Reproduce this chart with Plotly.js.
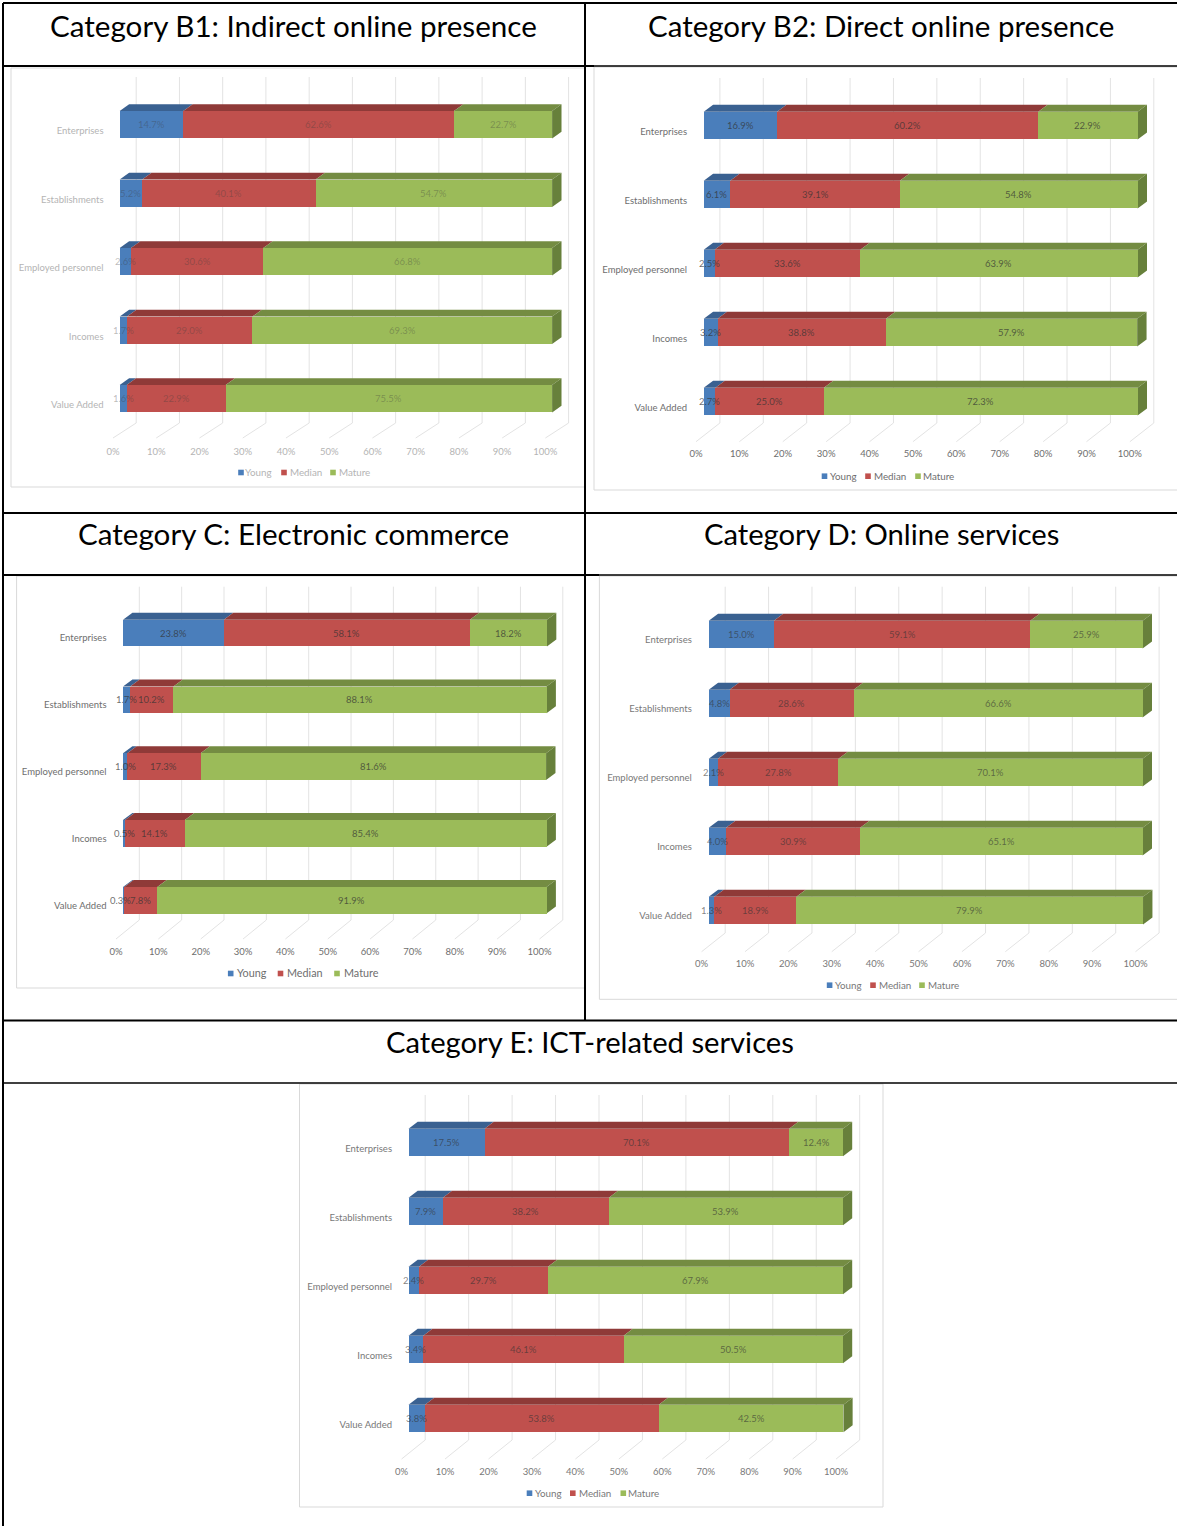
<!DOCTYPE html>
<html>
<head>
<meta charset="utf-8">
<script src="https://cdn.plot.ly/plotly-3.0.1.min.js"></script>
<style>html,body{margin:0;padding:0;background:#fff;}#chart{width:1177px;height:1526px;}</style>
</head>
<body>
<div id="chart"></div>
<script>
// Shared labels
const categories = ["Enterprises", "Establishments", "Employed personnel", "Incomes", "Value Added"];
const seriesNames = ["Young", "Median", "Mature"];
const ticks = [0, 10, 20, 30, 40, 50, 60, 70, 80, 90, 100];
const tickLabels = ["0%", "10%", "20%", "30%", "40%", "50%", "60%", "70%", "80%", "90%", "100%"];

// Shares per size measure, in percent
const b1Young = [14.7, 5.2, 2.6, 1.7, 1.6];
const b1Median = [62.6, 40.1, 30.6, 29.0, 22.9];
const b1Mature = [22.7, 54.7, 66.8, 69.3, 75.5];

const b2Young = [16.9, 6.1, 2.5, 3.2, 2.7];
const b2Median = [60.2, 39.1, 33.6, 38.8, 25.0];
const b2Mature = [22.9, 54.8, 63.9, 57.9, 72.3];

const cYoung = [23.8, 1.7, 1.0, 0.5, 0.3];
const cMedian = [58.1, 10.2, 17.3, 14.1, 7.8];
const cMature = [18.2, 88.1, 81.6, 85.4, 91.9];

const dYoung = [15.0, 4.8, 2.1, 4.0, 1.3];
const dMedian = [59.1, 28.6, 27.8, 30.9, 18.9];
const dMature = [25.9, 66.6, 70.1, 65.1, 79.9];

const eYoung = [17.5, 7.9, 2.4, 3.4, 3.8];
const eMedian = [70.1, 38.2, 29.7, 46.1, 53.8];
const eMature = [12.4, 53.9, 67.9, 50.5, 42.5];

const W = 1177, H = 1526;
const FONT = "Lato, Carlito, sans-serif";
const frontColors = ["#4a7ebb", "#c0504d", "#9bbb59"];
const topColors = ["#3a6191", "#8f3a38", "#748c42"];
const sideColor = "#67803b";
const gridColor = "#e3e3e3";

// Page layout of each panel, in pixels
const panels = [
  {title: "Category B1: Indirect online presence", titleX: 293, titleY: 26, titleSize: 29.6,
   young: b1Young, median: b1Median, mature: b1Mature,
   bar0: 119.7, bar100: 552.1, barTop: 111, barH: 27.4, pitch: 68.5, dx: 9.4, dy: 6.7,
   labelY: 131, catRight: 103.5, wall0: 136.2, wallTop: 77, wallBottom: 423,
   floor0: 113, floorY: 438, tickY: 452, legendY: 472,
   swatch: [241, 284, 333], legendText: [243, 288, 336.5],
   frame: [11, 68, 585, 487], textColor: "#b4b4b4", valueColor: "rgba(60,60,60,0.36)"},
  {title: "Category B2: Direct online presence", titleX: 881, titleY: 26, titleSize: 29.5,
   young: b2Young, median: b2Median, mature: b2Mature,
   bar0: 703.7, bar100: 1137.6, barTop: 111.7, barH: 27.7, pitch: 69, dx: 9.4, dy: 7,
   labelY: 131.7, catRight: 687, wall0: 719.9, wallTop: 78, wallBottom: 423,
   floor0: 696, floorY: 441.7, tickY: 454.3, legendY: 475.7,
   swatch: [824.5, 868, 918], legendText: [828, 872, 921],
   frame: [594, 67, 1180, 490], textColor: "#6e6e6e", valueColor: "rgba(50,50,50,0.72)"},
  {title: "Category C: Electronic commerce", titleX: 293, titleY: 534, titleSize: 29.6,
   young: cYoung, median: cMedian, mature: cMature,
   bar0: 123, bar100: 546.5, barTop: 619.7, barH: 26.7, pitch: 66.8, dx: 9.4, dy: 7,
   labelY: 638, catRight: 106.5, wall0: 139.3, wallTop: 586.7, wallBottom: 920,
   floor0: 116, floorY: 939, tickY: 952, legendY: 973,
   swatch: [230.7, 280.5, 337], legendText: [235, 285, 341.5], legendSize: 10.8,
   frame: [16.6, 576, 585, 988], textColor: "#6e6e6e", valueColor: "rgba(50,50,50,0.72)"},
  {title: "Category D: Online services", titleX: 881, titleY: 534, titleSize: 29.2,
   young: dYoung, median: dMedian, mature: dMature,
   bar0: 708.7, bar100: 1142.6, barTop: 620.7, barH: 27.7, pitch: 69, dx: 9.4, dy: 7,
   labelY: 640, catRight: 691.8, wall0: 725.2, wallTop: 586.7, wallBottom: 933,
   floor0: 701.6, floorY: 951.7, tickY: 964, legendY: 984.7,
   swatch: [829.6, 873, 922], legendText: [833, 877, 925.7],
   frame: [599.4, 576, 1180, 999.3], textColor: "#787878", valueColor: "rgba(50,50,50,0.6)"},
  {title: "Category E: ICT-related services", titleX: 590, titleY: 1041, titleSize: 29.2,
   young: eYoung, median: eMedian, mature: eMature,
   bar0: 408.5, bar100: 843, barTop: 1128.7, barH: 27.6, pitch: 69, dx: 9.2, dy: 7,
   labelY: 1148.3, catRight: 392, wall0: 425.2, wallTop: 1095, wallBottom: 1440,
   floor0: 401.6, floorY: 1459, tickY: 1471.6, legendY: 1492.7,
   swatch: [529.5, 572.8, 623.3], legendText: [533, 576.5, 626],
   frame: [299.5, 1084, 883, 1507], textColor: "#787878", valueColor: "rgba(50,50,50,0.62)"}
];

const px = x => x / W;
const py = y => 1 - y / H;
const traces = [];
const shapes = [];
const annotations = [];
const layout = {
  width: W, height: H, margin: {l: 0, r: 0, t: 0, b: 0},
  paper_bgcolor: "#fff", plot_bgcolor: "rgba(0,0,0,0)",
  barmode: "stack", showlegend: false, font: {family: FONT},
  shapes, annotations
};

function paperLine(x0, y0, x1, y1, width, color) {
  shapes.push({type: "line", xref: "paper", yref: "paper", layer: "below",
    x0: px(x0), y0: py(y0), x1: px(x1), y1: py(y1), line: {color: color || "#000", width}});
}

panels.forEach((p, idx) => {
  const n = idx === 0 ? "" : String(idx + 1);
  const xName = "x" + n, yName = "y" + n;
  const unitX = (p.bar100 - p.bar0) / 100;
  const toX = v => (v - p.bar0) / unitX;
  const toY = v => (v - p.labelY) / p.pitch;

  // Plot area wide enough to hold the floor, the back wall and the bar depth
  const left = p.catRight + 1, right = p.wall0 + (p.bar100 - p.bar0) + 4;
  const top = p.wallTop - 1, bottom = p.tickY - 7.5;

  layout["xaxis" + n] = {
    domain: [px(left), px(right)], range: [toX(left), toX(right)], anchor: yName,
    tickmode: "array", tickvals: ticks.map(t => t + toX(p.floor0)), ticktext: tickLabels,
    ticklen: 0, showgrid: false, zeroline: false, showline: false, fixedrange: true,
    tickfont: {family: FONT, size: 9.5, color: p.textColor}
  };
  layout["yaxis" + n] = {
    type: "category", categoryorder: "array", categoryarray: categories,
    domain: [py(bottom), py(top)], range: [toY(bottom), toY(top)], anchor: xName,
    ticklen: 0, showgrid: false, zeroline: false, showline: false, fixedrange: true,
    tickfont: {family: FONT, size: 9.5, color: p.textColor}
  };

  // Chart frame
  shapes.push({type: "rect", xref: "paper", yref: "paper", layer: "below",
    x0: px(p.frame[0]), y0: py(p.frame[1]), x1: px(p.frame[2]), y1: py(p.frame[3]),
    line: {color: "#d9d9d9", width: 1}});

  // Back wall gridlines and their run across the floor
  const wallShift = toX(p.wall0), floorShift = toX(p.floor0);
  ticks.forEach(t => {
    const line = {color: gridColor, width: 1};
    shapes.push({type: "line", xref: xName, yref: yName, layer: "below", line,
      x0: t + wallShift, x1: t + wallShift, y0: toY(p.wallTop), y1: toY(p.wallBottom)});
    shapes.push({type: "line", xref: xName, yref: yName, layer: "below", line,
      x0: t + wallShift, x1: t + floorShift, y0: toY(p.wallBottom), y1: toY(p.floorY)});
  });

  // Position of each bar relative to its category label
  const firstCentre = p.barTop + p.barH / 2;
  const shift = (p.labelY - firstCentre) / p.pitch;
  const thick = p.barH / p.pitch;
  const depthX = p.dx / unitX, depthY = p.dy / p.pitch;

  const series = [p.young, p.median, p.mature];
  series.forEach((vals, s) => {
    traces.push({
      type: "bar", orientation: "h", name: seriesNames[s], y: categories, x: vals,
      xaxis: xName, yaxis: yName, width: thick, offset: -shift - thick / 2,
      marker: {color: frontColors[s], line: {width: 0}},
      hovertemplate: "%{y}: %{x:.1f}%<extra>" + seriesNames[s] + "</extra>"
    });
  });

  // Extruded top and end faces and the value labels, derived from the stacked values
  categories.forEach((c, i) => {
    const yFront = i - shift - thick / 2;
    const yBack = yFront - depthY;
    const yBase = yFront + thick;
    let start = 0;
    series.forEach((vals, s) => {
      const end = start + vals[i];
      shapes.push({type: "path", xref: xName, yref: yName, layer: "below",
        fillcolor: topColors[s], line: {width: 0},
        path: `M ${start} ${yFront} L ${end} ${yFront} L ${end + depthX} ${yBack} L ${start + depthX} ${yBack} Z`});
      // Labels sit above all bars so narrow segments can overflow their neighbours
      annotations.push({xref: xName, yref: yName, x: (start + end) / 2, y: i - shift,
        xanchor: "center", yanchor: "middle", showarrow: false,
        xshift: (s === 0 && vals[i] < 0.4) ? -3 : 0,
        text: vals[i].toFixed(1) + "%", font: {family: FONT, size: 9.5, color: p.valueColor}});
      start = end;
    });
    shapes.push({type: "path", xref: xName, yref: yName, layer: "below",
      fillcolor: sideColor, line: {width: 0},
      path: `M ${start} ${yFront} L ${start + depthX} ${yBack} L ${start + depthX} ${yBase - depthY} L ${start} ${yBase} Z`});
  });

  // Panel heading
  annotations.push({xref: "paper", yref: "paper", x: px(p.titleX), y: py(p.titleY),
    xanchor: "center", yanchor: "middle", showarrow: false, text: p.title,
    font: {family: FONT, size: p.titleSize, color: "#000"}});

  // Series key under the axis
  seriesNames.forEach((name, s) => {
    const half = 2.8;
    shapes.push({type: "rect", xref: "paper", yref: "paper", layer: "below",
      x0: px(p.swatch[s] - half), x1: px(p.swatch[s] + half),
      y0: py(p.legendY + 0.5 - half), y1: py(p.legendY + 0.5 + half),
      fillcolor: frontColors[s], line: {width: 0}});
    annotations.push({xref: "paper", yref: "paper", x: px(p.legendText[s]), y: py(p.legendY),
      xanchor: "left", yanchor: "middle", showarrow: false, text: name,
      font: {family: FONT, size: p.legendSize || 9.8, color: p.textColor}});
  });
});

// Table rules
paperLine(3, 3, 1177, 3, 2);
paperLine(3, 3, 3, 1526, 2);
paperLine(585, 3, 585, 1020, 2);
paperLine(3, 66, 594, 66, 2);
paperLine(594, 66, 1177, 66, 1.5);
paperLine(3, 513, 1177, 513, 2);
paperLine(3, 575, 599, 575, 2);
paperLine(599, 575, 1177, 575, 1.5);
paperLine(3, 1020.5, 1177, 1020.5, 2);
paperLine(3, 1083, 1177, 1083, 1.5);

Plotly.newPlot("chart", traces, layout, {displayModeBar: false});
</script>
</body>
</html>
